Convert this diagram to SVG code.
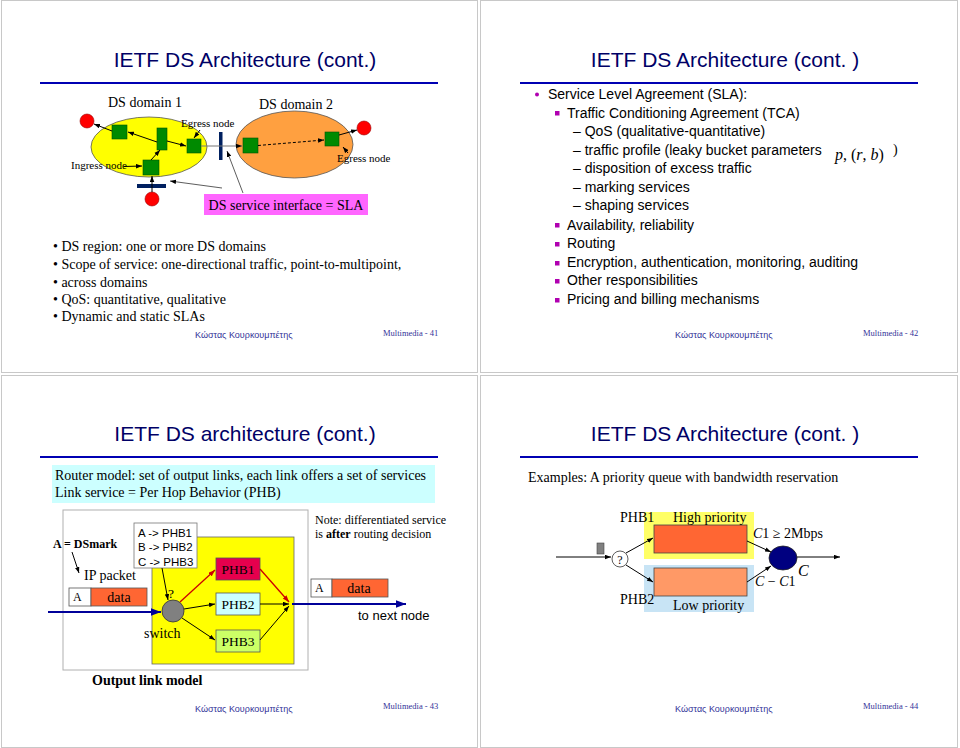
<svg xmlns="http://www.w3.org/2000/svg" width="960" height="748" viewBox="0 0 960 748">
<style>
.frame{fill:#fff;stroke:#c8c8c8;stroke-width:1}
.title{font-family:"Liberation Sans",Arial,sans-serif;font-size:21px;fill:#000066;text-anchor:middle}
.rule{stroke:#0000b3;stroke-width:2.2}
.tm{font-family:"Liberation Serif","Times New Roman",serif;fill:#000}
.ar{font-family:"Liberation Sans",Arial,sans-serif;fill:#000}
.s14{font-size:14px}
.s13{font-size:13.5px}
.s12{font-size:12px}
.s11{font-size:11px}
.foot{font-family:"Liberation Sans",Arial,sans-serif;font-size:9px;fill:#333399}
.mm{font-family:"Liberation Serif","Times New Roman",serif;font-size:8.5px;fill:#333399}
.bul{fill:#b000b0}
.ln{stroke:#000;stroke-width:1;fill:none}
.green{fill:#008a00;stroke:#005500;stroke-width:0.6}
.red{fill:#ff0000;stroke:#990000;stroke-width:0.6}
.navy{fill:#002060}
.it{font-style:italic}
.b{font-weight:bold}
</style>
<defs>
<marker id="ah" viewBox="0 0 8 6" refX="8" refY="3" markerWidth="6" markerHeight="5" markerUnits="userSpaceOnUse" orient="auto"><path d="M0,0 L8,3 L0,6 z" fill="#000"/></marker>
<marker id="ahr" viewBox="0 0 8 6" refX="8" refY="3" markerWidth="7" markerHeight="5" markerUnits="userSpaceOnUse" orient="auto"><path d="M0,0 L8,3 L0,6 z" fill="#cc0000"/></marker>
<marker id="ahn" viewBox="0 0 8 6" refX="8" refY="3" markerWidth="10" markerHeight="8" markerUnits="userSpaceOnUse" orient="auto"><path d="M0,0 L8,3 L0,6 z" fill="#000099"/></marker>
</defs>

<!-- slide frames -->
<rect class="frame" x="1.5" y="0.5" width="476" height="372"/>
<rect class="frame" x="480.5" y="0.5" width="477" height="372"/>
<rect class="frame" x="1.5" y="375.5" width="476" height="372"/>
<rect class="frame" x="480.5" y="375.5" width="477" height="372"/>

<!-- ================= SLIDE 1 ================= -->
<g id="slide1">
<text class="title" x="245" y="67">IETF DS Architecture (cont.)</text>
<line class="rule" x1="40" y1="83" x2="438" y2="83"/>

<g id="domain1">
<ellipse cx="149" cy="147" rx="58" ry="30" fill="#ffff00" stroke="#555" stroke-width="0.8"/>
<text class="tm s14" x="108" y="107">DS domain 1</text>
</g>
<g id="domain2">
<ellipse cx="294.5" cy="144.5" rx="58.5" ry="33.5" fill="#ffa040" stroke="#555" stroke-width="0.8"/>
<text class="tm s14" x="259" y="109">DS domain 2</text>
</g>
<g id="host-left"><circle class="red" cx="87" cy="121" r="7"/></g>
<g id="host-right"><circle class="red" cx="364" cy="128" r="7"/></g>
<g id="host-bottom"><circle class="red" cx="152" cy="199" r="7"/></g>
<g id="node-d1a"><rect class="green" x="112" y="125" width="15" height="14"/></g>
<g id="node-d1-core"><rect class="green" x="157" y="128" width="10" height="22"/></g>
<g id="node-d1-egress"><rect class="green" x="187" y="139" width="14" height="14"/></g>
<g id="node-d1-ingress"><rect class="green" x="143" y="160" width="16" height="15"/></g>
<g id="node-d2-ingress"><rect class="green" x="243" y="138" width="15" height="15"/></g>
<g id="node-d2-egress"><rect class="green" x="325" y="132" width="14" height="14"/></g>
<g id="bar-vertical"><rect class="navy" x="219" y="132" width="3.5" height="28"/></g>
<g id="bar-horizontal"><rect class="navy" x="137" y="184" width="29" height="4"/></g>

<g id="lbl-egress1"><text class="tm s11" x="181" y="127">Egress node</text></g>
<g id="lbl-ingress"><text class="tm s11" x="71" y="169">Ingress node</text></g>
<g id="lbl-egress2"><text class="tm s11" x="337" y="162">Egress node</text></g>
<g id="sla-box">
<rect x="204" y="194" width="164" height="21" fill="#ff66ff"/>
<text class="tm s14" x="286" y="210" text-anchor="middle">DS service interface = SLA</text>
</g>

<g id="connectors1" class="ln">
<line x1="152" y1="192" x2="152" y2="176" marker-end="url(#ah)"/>
<line x1="151" y1="160" x2="160" y2="150" marker-end="url(#ah)"/>
<line x1="157" y1="142" x2="128" y2="132" marker-end="url(#ah)"/>
<line x1="167" y1="141" x2="186" y2="146" marker-end="url(#ah)"/>
<line x1="112" y1="131" x2="94" y2="124" marker-end="url(#ah)"/>
<line x1="201" y1="146" x2="242" y2="146" stroke="#777" marker-end="url(#ah)"/>
<line x1="258" y1="145.5" x2="324" y2="140" stroke-dasharray="3,2" marker-end="url(#ah)"/>
<line x1="339" y1="135" x2="357" y2="130" marker-end="url(#ah)"/>
<line x1="200" y1="130" x2="194" y2="138" marker-end="url(#ah)"/>
<line x1="124" y1="166.5" x2="142" y2="166" marker-end="url(#ah)"/>
<line x1="348" y1="153" x2="343" y2="147" marker-end="url(#ah)"/>
<line x1="222" y1="188" x2="170" y2="181" stroke="#333" stroke-width="0.8" marker-end="url(#ah)"/>
<line x1="243" y1="193" x2="227" y2="151" stroke="#333" stroke-width="0.8" marker-end="url(#ah)"/>
</g>

<g id="bullets1" class="tm s14">
<text x="53" y="251">• DS region: one or more DS domains</text>
<text x="53" y="269">• Scope of service: one-directional traffic, point-to-multipoint,</text>
<text x="53" y="287">• across domains</text>
<text x="53" y="304">• QoS: quantitative, qualitative</text>
<text x="53" y="321">• Dynamic and static SLAs</text>
</g>
<text class="foot" x="195" y="338">Κώστας Κουρκουμπέτης</text>
<text class="mm" x="383" y="336">Multimedia  - 41</text>
</g>

<!-- ================= SLIDE 2 ================= -->
<g id="slide2">
<text class="title" x="725" y="67">IETF DS Architecture (cont. )</text>
<line class="rule" x1="520" y1="83" x2="918" y2="83"/>
<g class="ar s14">
<circle class="bul" cx="537" cy="94.5" r="2"/>
<text x="548" y="99">Service Level Agreement (SLA):</text>
<rect class="bul" x="555" y="111" width="4.5" height="4.5"/>
<text x="567" y="118">Traffic Conditioning Agreement (TCA)</text>
<text x="573" y="136">– QoS (qualitative-quantitative)</text>
<text x="573" y="155">– traffic profile (leaky bucket parameters</text>
<text x="573" y="173">– disposition of  excess traffic</text>
<text x="573" y="192">– marking services</text>
<text x="573" y="210">– shaping services</text>
<rect class="bul" x="555" y="223" width="4.5" height="4.5"/>
<text x="567" y="230">Availability, reliability</text>
<rect class="bul" x="555" y="242" width="4.5" height="4.5"/>
<text x="567" y="248">Routing</text>
<rect class="bul" x="555" y="261" width="4.5" height="4.5"/>
<text x="567" y="267">Encryption, authentication, monitoring, auditing</text>
<rect class="bul" x="555" y="279" width="4.5" height="4.5"/>
<text x="567" y="285">Other responsibilities</text>
<rect class="bul" x="555" y="298" width="4.5" height="4.5"/>
<text x="567" y="304">Pricing and billing mechanisms</text>
</g>
<text class="tm" font-size="16" x="835" y="160"><tspan class="it">p</tspan>, (<tspan class="it">r</tspan>, <tspan class="it">b</tspan>)</text>
<text class="tm" font-size="14" x="893" y="154">)</text>
<text class="foot" x="675" y="338">Κώστας Κουρκουμπέτης</text>
<text class="mm" x="863" y="336">Multimedia  - 42</text>
</g>

<!-- ================= SLIDE 3 ================= -->
<g id="slide3">
<text class="title" x="245" y="441">IETF DS architecture (cont.)</text>
<line class="rule" x1="40" y1="457" x2="438" y2="457"/>
<g id="router-note">
<rect x="52" y="465" width="383" height="38" fill="#ccffff"/>
<text class="tm s14" x="55" y="480">Router model: set of output links, each link offers a set of services</text>
<text class="tm s14" x="55" y="497">Link service = Per Hop Behavior (PHB)</text>
</g>
<g id="output-link-model">
<rect x="63" y="510" width="245" height="160" fill="#fff" stroke="#b0b0b0" stroke-width="1"/>
<text class="tm s14 b" x="92" y="685">Output link model</text>
</g>
<g id="switch-area"><rect x="152" y="537" width="142" height="127" fill="#ffff00" stroke="#666" stroke-width="0.8"/></g>
<g id="mapping">
<rect x="134" y="523" width="63" height="45" fill="#fff" stroke="#777" stroke-width="0.8"/>
<text class="ar" font-size="11.5" x="138" y="537">A -&gt; PHB1</text>
<text class="ar" font-size="11.5" x="138" y="551">B -&gt; PHB2</text>
<text class="ar" font-size="11.5" x="138" y="566">C -&gt; PHB3</text>
</g>
<g id="dsmark"><text class="tm s12 b" x="53" y="548">A = DSmark</text></g>
<g id="ip-packet">
<text class="tm s14" x="84" y="580">IP packet</text>
<rect x="69" y="588" width="22" height="18" fill="#fff" stroke="#555" stroke-width="0.8"/>
<rect x="91" y="588" width="56" height="18" fill="#ff6633" stroke="#555" stroke-width="0.8"/>
<text class="tm s12" x="73" y="601">A</text>
<text class="tm s14" x="119" y="602" text-anchor="middle" fill="#5a0000">data</text>
</g>
<g id="switch">
<circle cx="173" cy="611" r="11" fill="#808080" stroke="#333" stroke-width="0.8"/>
<text class="tm s13" x="168" y="598">?</text>
<text class="tm s14" x="144" y="638">switch</text>
</g>
<g id="phb1"><rect x="216" y="558" width="44" height="22" fill="#e6004d" stroke="#555" stroke-width="0.8"/><text class="tm s13" x="238" y="574" text-anchor="middle">PHB1</text></g>
<g id="phb2"><rect x="216" y="593" width="44" height="22" fill="#ccffff" stroke="#555" stroke-width="0.8"/><text class="tm s13" x="238" y="609" text-anchor="middle">PHB2</text></g>
<g id="phb3"><rect x="216" y="630" width="44" height="22" fill="#ccff66" stroke="#555" stroke-width="0.8"/><text class="tm s13" x="238" y="646" text-anchor="middle">PHB3</text></g>
<g id="out-packet">
<rect x="311" y="579" width="21" height="18" fill="#fff" stroke="#555" stroke-width="0.8"/>
<rect x="332" y="579" width="56" height="18" fill="#ff6633" stroke="#555" stroke-width="0.8"/>
<text class="tm s12" x="315" y="592">A</text>
<text class="tm s14" x="359" y="593" text-anchor="middle" fill="#5a0000">data</text>
<text class="ar" font-size="13" x="358" y="620">to next node</text>
</g>
<g id="note">
<text class="tm s12" x="315" y="524">Note: differentiated service</text>
<text class="tm s12" x="315" y="538">is <tspan class="b">after</tspan> routing decision</text>
</g>
<g id="connectors3" class="ln">
<line x1="48" y1="612" x2="161" y2="612" stroke="#000099" stroke-width="2" marker-end="url(#ahn)"/>
<line x1="292" y1="604" x2="406" y2="604" stroke="#000099" stroke-width="2" marker-end="url(#ahn)"/>
<line x1="72" y1="552" x2="79" y2="573" marker-end="url(#ah)"/>
<line x1="162" y1="568" x2="168" y2="600" marker-end="url(#ah)"/>
<line x1="180" y1="602" x2="215" y2="570" stroke="#cc0000" stroke-width="1.3" marker-end="url(#ahr)"/>
<line x1="184" y1="609" x2="215" y2="604" marker-end="url(#ah)"/>
<line x1="182" y1="618" x2="215" y2="640" marker-end="url(#ah)"/>
<line x1="260" y1="569" x2="289" y2="602" stroke="#cc0000" stroke-width="1.3" marker-end="url(#ahr)"/>
<line x1="260" y1="604" x2="289" y2="604" marker-end="url(#ah)"/>
<line x1="260" y1="640" x2="289" y2="606" marker-end="url(#ah)"/>
</g>
<text class="foot" x="195" y="712">Κώστας Κουρκουμπέτης</text>
<text class="mm" x="383" y="709">Multimedia  - 43</text>
</g>

<!-- ================= SLIDE 4 ================= -->
<g id="slide4">
<text class="title" x="725" y="441">IETF DS Architecture (cont. )</text>
<line class="rule" x1="520" y1="457" x2="918" y2="457"/>
<text class="tm s14" x="528" y="482">Examples: A priority queue with bandwidth reservation</text>
<g id="phb1-area">
<rect x="644" y="512" width="110" height="47" fill="#ffff66"/>
<rect x="654" y="525" width="93" height="28" fill="#ff6633" stroke="#444" stroke-width="0.8"/>
<text class="tm s14" x="620" y="522">PHB1</text>
<text class="tm s14" x="673" y="522">High priority</text>
</g>
<g id="phb2-area">
<rect x="644" y="565" width="110" height="47" fill="#c8e4f5"/>
<rect x="654" y="568" width="93" height="28" fill="#ff9966" stroke="#444" stroke-width="0.8"/>
<text class="tm s14" x="620" y="604">PHB2</text>
<text class="tm s14" x="673" y="610">Low priority</text>
</g>
<g id="classifier">
<circle cx="620" cy="559" r="8" fill="#fff" stroke="#333" stroke-width="0.8"/>
<text class="tm s12" x="620" y="563.5" text-anchor="middle">?</text>
</g>
<g id="packet4"><rect x="597" y="543" width="7" height="11" fill="#808080" stroke="#444" stroke-width="0.6"/></g>
<g id="link">
<ellipse cx="783" cy="558" rx="14" ry="12" fill="#000080" stroke="#222" stroke-width="0.8"/>
<text class="tm it" font-size="16" x="798" y="576">C</text>
</g>
<text class="tm s14" x="753" y="538"><tspan class="it">C</tspan>1 ≥ 2Mbps</text>
<text class="tm s14" x="755" y="586"><tspan class="it">C</tspan> − <tspan class="it">C</tspan>1</text>
<g id="connectors4" class="ln">
<line x1="556" y1="557" x2="611" y2="557" marker-end="url(#ah)"/>
<line x1="626" y1="553" x2="653" y2="538" marker-end="url(#ah)"/>
<line x1="626" y1="565" x2="653" y2="582" marker-end="url(#ah)"/>
<line x1="747" y1="541" x2="771" y2="552" marker-end="url(#ah)"/>
<line x1="747" y1="582" x2="771" y2="566" marker-end="url(#ah)"/>
<line x1="797" y1="557" x2="840" y2="557" marker-end="url(#ah)"/>
</g>
<text class="foot" x="675" y="712">Κώστας Κουρκουμπέτης</text>
<text class="mm" x="863" y="709">Multimedia  - 44</text>
</g>
</svg>
